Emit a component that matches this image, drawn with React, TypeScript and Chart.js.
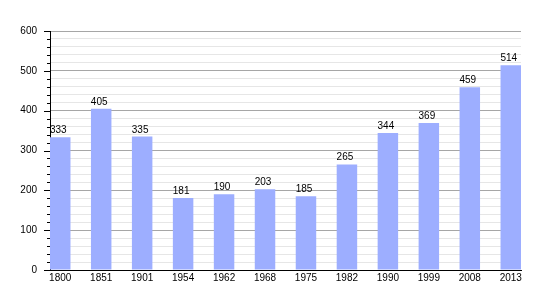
import React, { useEffect, useRef } from "react";
import { Chart, registerables } from "chart.js";

Chart.register(...registerables);

const years = ["1800", "1851", "1901", "1954", "1962", "1968", "1975", "1982", "1990", "1999", "2008", "2013"];
const population = [333, 405, 335, 181, 190, 203, 185, 265, 344, 369, 459, 514];
const yTicks = [0, 100, 200, 300, 400, 500, 600];

const FONT = "'Liberation Sans', Arial, sans-serif";

const extrasPlugin = {
  id: "extras",
  afterDatasetsDraw(chart: any) {
    const ctx = chart.ctx;
    const meta = chart.getDatasetMeta(0);
    ctx.save();
    ctx.font = `10px ${FONT}`;
    ctx.fillStyle = "#000";
    ctx.textAlign = "center";
    ctx.textBaseline = "alphabetic";
    meta.data.forEach((bar: any, i: number) => {
      ctx.fillText(String(population[i]), bar.x - 2, bar.y - 4);
    });
    // y-axis tick marks
    const ys = chart.scales.y;
    const left = chart.chartArea.left;
    ctx.strokeStyle = "#000";
    ctx.lineWidth = 1;
    for (let v = 0; v <= 600; v += 20) {
      const py = Math.round(ys.getPixelForValue(v)) + 0.5;
      const len = v % 100 === 0 ? 6 : 3;
      ctx.beginPath();
      ctx.moveTo(left - len, py);
      ctx.lineTo(left, py);
      ctx.stroke();
    }
    ctx.restore();
  },
};

export default function App() {
  const ref = useRef<HTMLCanvasElement | null>(null);
  useEffect(() => {
    if (!ref.current) return;
    const chart = new Chart(ref.current, {
      type: "bar",
      data: {
        datasets: [
          {
            data: population.map((v, i) => ({ x: i, y: v })),
            backgroundColor: "#9daeff",
            borderWidth: 0,
            barPercentage: 0.5,
            categoryPercentage: 1,
          },
        ],
      },
      options: {
        animation: false,
        responsive: false,
        maintainAspectRatio: false,
        layout: { padding: { left: 0, top: 31, right: 29, bottom: 0 } },
        plugins: { legend: { display: false }, tooltip: { enabled: false } },
        scales: {
          x: {
            type: "linear",
            offset: false,
            min: -0.25,
            max: 11.25,
            afterBuildTicks: (scale: any) => {
              scale.ticks = years.map((_, i) => ({ value: i }));
            },
            afterFit: (scale: any) => {
              scale.height = 30;
            },
            ticks: {
              autoSkip: false,
              maxRotation: 0,
              padding: 2,
              color: "#000",
              font: { family: FONT, size: 10 },
              callback: (v: any) => years[v] ?? "",
            },
            grid: { display: false, drawTicks: false, offset: false },
            border: { display: true, color: "#000", width: 1 },
          },
          y: {
            min: 0,
            max: 600,
            afterBuildTicks: (scale: any) => {
              const t: any[] = [];
              for (let v = 0; v <= 600; v += 20) t.push({ value: v });
              scale.ticks = t;
            },
            afterFit: (scale: any) => {
              scale.width = 50;
            },
            ticks: {
              autoSkip: false,
              padding: 13,
              color: "#000",
              font: { family: FONT, size: 10 },
              callback: (v: any) => (yTicks.includes(v) ? String(v) : ""),
            },
            grid: {
              drawTicks: false,
              color: (c: any) =>
                c.tick && c.tick.value % 100 === 0 ? "#a6a6a6" : "#e6e6e6",
              lineWidth: 1,
            },
            border: { display: true, color: "#000", width: 1 },
          },
        },
      },
      plugins: [extrasPlugin],
    });
    return () => chart.destroy();
  }, []);
  return (
    <div style={{ position: "absolute", left: 0, top: 0, width: 550, height: 300 }}>
      <canvas ref={ref} width={550} height={300} style={{ width: 550, height: 300 }} />
    </div>
  );
}
